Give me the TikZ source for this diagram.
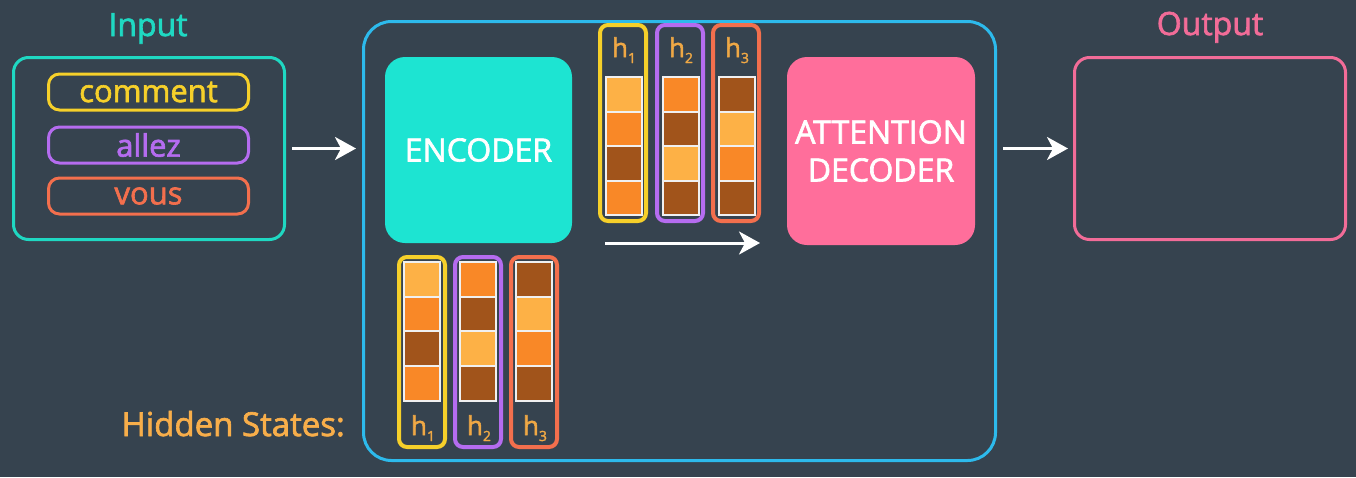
\documentclass[tikz,border=0pt]{standalone}
\usepackage{fontspec}
\setmainfont{Open Sans}
\newfontfamily\semib{Open Sans}[FakeBold=2]
\usetikzlibrary{arrows.meta}
\definecolor{bg}{HTML}{36434F}
\definecolor{cteal}{HTML}{1FD8C2}
\definecolor{cenc}{HTML}{1DE4D2}
\definecolor{cyel}{HTML}{F6D02A}
\definecolor{cpur}{HTML}{B56CF0}
\definecolor{cred}{HTML}{F36F4D}
\definecolor{cblue}{HTML}{2DBAEC}
\definecolor{cdec}{HTML}{FF6E9B}
\definecolor{cout}{HTML}{F26C98}
\definecolor{chid}{HTML}{F8AE4A}
\definecolor{chl}{HTML}{EFA845}
\definecolor{lt}{HTML}{FDB146}
\definecolor{md}{HTML}{F98827}
\definecolor{dk}{HTML}{A1541B}
\newcommand{\hsub}[1]{h\raisebox{-6pt}{\fontsize{14}{14}\selectfont #1}}
\begin{document}
\begin{tikzpicture}[x=1pt,y=-1pt,
  frame/.style={draw, line width=3pt, rounded corners=15pt, inner sep=0pt,
    minimum width=271pt, minimum height=182pt},
  word/.style={draw, line width=3pt, rounded corners=11pt, inner sep=0pt,
    minimum width=200pt, minimum height=36pt, font=\semib\fontsize{31}{36}\selectfont},
  title/.style={font=\semib\fontsize{32}{38}\selectfont, anchor=base, inner sep=0pt},
  block/.style={rounded corners=20pt, inner sep=0pt, text=white, align=center,
    font=\semib\fontsize{32}{38}\selectfont},
  hbox/.style={draw, line width=4pt, rounded corners=8pt, inner sep=0pt, minimum width=46pt},
  cell/.style={draw=white!94!black, line width=2pt, inner sep=0pt,
    minimum width=36pt, minimum height=34.6pt},
  hlab/.style={text=chl, font=\semib\fontsize{26}{30}\selectfont, anchor=base, inner sep=0pt},
  arr/.style={draw=white, line width=3pt, -{Stealth[length=21pt,width=23pt,inset=6pt]}}
]
\fill[bg] (0,0) rectangle (1356,477);
\useasboundingbox (0,0) rectangle (1356,477);

% input
\node[title, text=cteal] (intitle) at (148,36) {Input};
\node[frame, draw=cteal] (inp) at (149,148.5) {};
\node[word, draw=cyel, text=cyel] (w1) at (148.5,92) {comment};
\node[word, draw=cpur, text=cpur] (w2) at (148.5,145) {allez};
\node[word, draw=cred, text=cred] (w3) at (148.5,196) {vous};

% big container
\node[draw=cblue, line width=3pt, rounded corners=28pt, inner sep=0pt,
  minimum width=632pt, minimum height=439pt] (big) at (679.5,241) {};

% encoder / decoder
\node[block, fill=cenc, minimum width=187pt, minimum height=186pt] (enc) at (478.5,150) {ENCODER};
\node[block, fill=cdec, minimum width=188pt, minimum height=188pt] (dec) at (881,151) {ATTENTION\\DECODER};

% output
\node[title, text=cout] (outtitle) at (1210,35) {Output};
\node[frame, draw=cout] (out) at (1210,148.5) {};

% hidden states label
\node[title, text=chid, anchor=base east, font=\semib\fontsize{33}{38}\selectfont] (hs) at (345,436) {Hidden States:};

% bottom hidden state columns
\foreach \n/\x/\ca/\cb/\cc/\cd/\col in {1/422/lt/md/dk/md/cyel, 2/478/md/dk/lt/dk/cpur, 3/534/dk/lt/md/dk/cred}{
  \node[hbox, draw=\col, minimum height=190pt] (b\n) at (\x,352) {};
  \node[cell, fill=\ca] (b\n c1) at (\x,279.4) {};
  \node[cell, fill=\cb] (b\n c2) at (\x,314.0) {};
  \node[cell, fill=\cc] (b\n c3) at (\x,348.6) {};
  \node[cell, fill=\cd] (b\n c4) at (\x,383.2) {};
  \node[hlab] (b\n l) at (\x+1,435) {\hsub{\n}};
}

% top hidden state columns
\foreach \n/\x/\ca/\cb/\cc/\cd/\col in {1/623/lt/md/dk/md/cyel, 2/680/md/dk/lt/dk/cpur, 3/736/dk/lt/md/dk/cred}{
  \node[hbox, draw=\col, minimum height=196pt] (t\n) at (\x,123) {};
  \node[cell, fill=\ca] (t\n c1) at (\x+1,94.3) {};
  \node[cell, fill=\cb] (t\n c2) at (\x+1,128.8) {};
  \node[cell, fill=\cc] (t\n c3) at (\x+1,163.3) {};
  \node[cell, fill=\cd] (t\n c4) at (\x+1,197.8) {};
  \node[hlab] (t\n l) at (\x+1,57) {\hsub{\n}};
}

% arrows
\draw[arr, shorten <=6pt, shorten >=6pt] (inp.east) -- (inp.east -| big.west);
\draw[arr, shorten <=6pt, shorten >=5pt] (out.west -| big.east) -- (out.west);
\coordinate (ta1) at (605,243);
\coordinate (ta2) at (760,243);
\draw[arr] (ta1) -- (ta2);
\end{tikzpicture}
\end{document}
